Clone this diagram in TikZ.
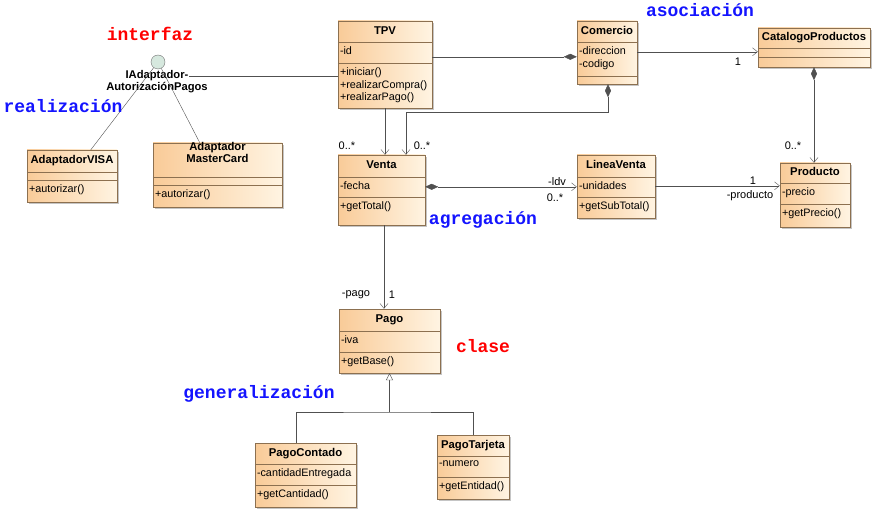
\documentclass[tikz,border=0pt]{standalone}
\usepackage{fontspec}
\setmainfont{Liberation Sans}
\newfontfamily\notefont{Liberation Mono}
\usetikzlibrary{arrows.meta,shadows,fit,calc,positioning}
\definecolor{boxleft}{RGB}{249,203,152}
\definecolor{boxright}{RGB}{255,244,226}
\definecolor{boxline}{RGB}{140,112,80}
\definecolor{wire}{RGB}{80,80,80}
\definecolor{notered}{RGB}{255,0,0}
\definecolor{noteblue}{RGB}{20,20,255}
\definecolor{ifacefill}{RGB}{214,232,222}
\tikzset{
  classbox/.style={
    draw = boxline,
    left color = boxleft,
    right color = boxright,
    inner sep = 0pt,
    drop shadow = {shadow xshift=2pt, shadow yshift=-2pt, fill=black!45}
  },
  classsep/.style={
    draw = boxline
  },
  classtitle/.style={
    font = \bfseries\fontsize{11.3}{12.5}\selectfont,
    align = center,
    text height = 7.5pt,
    text depth = 2pt,
    inner sep = 0pt
  },
  classmember/.style={
    anchor = north west,
    align = left,
    font = \fontsize{10.8}{12.8}\selectfont,
    inner xsep = 2pt,
    inner ysep = 4.5pt
  },
}
\tikzset{
  wire/.style={
    draw = wire,
    thin
  },
  assoc/.style={
    wire,
    -{Straight Barb[length=5pt,width=8pt]}
  },
  compo/.style={
    wire,
    {Diamond[length=13pt,width=6pt,fill=wire]}-{Straight Barb[length=5pt,width=8pt]}
  },
  mult/.style={
    font = \fontsize{11}{12}\selectfont,
    inner sep = 0pt
  },
  note/.style={
    font = \notefont\bfseries\fontsize{18}{18}\selectfont,
    anchor = base,
    inner sep = 0pt
  },
  iface/.style={
    shape = circle,
    draw = black!55,
    fill = ifacefill,
    minimum size = 14pt,
    inner sep = 0pt
  },
  ifacename/.style={
    font = \bfseries\fontsize{11.2}{12}\selectfont,
    inner sep = 0.5pt
  }
}
% id, top left, bottom right, title height, attribute height, title, attributes, operations
\newcommand{\umlclass}[8]{%
  \coordinate (#1-nw) at (#2);
  \coordinate (#1-se) at (#3);
  \node[classbox, fit=(#1-nw)(#1-se)] (#1) {};
  \draw[classsep] ([yshift=-#4pt]#1.north west) -- ([yshift=-#4pt]#1.north east);
  \draw[classsep] ([yshift=-#4pt-#5pt]#1.north west) -- ([yshift=-#4pt-#5pt]#1.north east);
  \node[classtitle] (#1-title) at ([yshift=-#4pt/2]#1.north) {#6};
  \node[classmember] (#1-attr) at ([yshift=-#4pt]#1.north west) {#7};
  \node[classmember] (#1-ops) at ([yshift=-#4pt-#5pt]#1.north west) {#8};
}

\begin{document}
\begin{tikzpicture}[x=1pt,y=-1pt]
  \useasboundingbox (0,0) rectangle (875,513);

  \umlclass{tpv}{338,21}{432,108}{21}{21}{TPV}{-id}{+iniciar()\\+realizarCompra()\\+realizarPago()}
  \umlclass{com}{577,21}{637,84}{21}{34}{Comercio}{-direccion\\-codigo}{}
  \umlclass{cat}{758,28}{870,67}{20}{9}{CatalogoProductos}{}{}
  \umlclass{prod}{780,163}{850,227}{20}{21}{Producto}{-precio}{+getPrecio()}
  \umlclass{venta}{338,155}{425,225}{22}{20}{Venta}{-fecha}{+getTotal()}
  \umlclass{lv}{577,155}{655,218}{22}{20}{LineaVenta}{-unidades}{+getSubTotal()}
  \umlclass{pago}{339,309}{440,373}{22}{21}{Pago}{-iva}{+getBase()}
  \umlclass{pcont}{255,443}{356,507}{21}{21}{PagoContado}{-cantidadEntregada}{+getCantidad()}
  \umlclass{ptar}{437,435}{509,499}{21}{21}{PagoTarjeta}{-numero}{+getEntidad()}
  \umlclass{visa}{27,150}{117,202}{22}{8}{AdaptadorVISA}{}{+autorizar()}
  \umlclass{mc}{153,143}{282,207}{34}{8}{Adaptador\\MasterCard}{}{+autorizar()}

  % interfaz
  \node[iface] (ifz) at (158,62) {};
  \node[ifacename] (ifzA) at (157,76) {IAdaptador-};
  \node[ifacename] (ifzB) at (157,88) {AutorizaciónPagos};
  \draw[wire] (ifzA.east) -- (ifzA.east -| tpv.west);
  \draw[wire] (ifz) -- ([xshift=64pt]visa.north west);
  \draw[wire] (ifz) -- ([xshift=47pt]mc.north west);

  % asociaciones
  \draw[wire, {Diamond[length=13pt,width=6pt,fill=wire]}-] ([yshift=-36pt]com.north west) -- ([yshift=-36pt]tpv.north east);
  \draw[assoc] ([yshift=-31pt]com.north east) -- ([yshift=-24pt]cat.north west);
  \draw[compo] (cat.south) -- (cat.south |- prod.north);
  \draw[assoc] (tpv.south) -- (tpv.south |- venta.north);
  \draw[compo] ([xshift=1pt]com.south) -- ++(0,28) -| ([xshift=24.5pt]venta.north);
  \draw[compo] ([yshift=-32pt]venta.north east) -- ([yshift=-32pt]lv.north west);
  \draw[assoc] ([yshift=-31pt]lv.north east) -- ([yshift=-23pt]prod.north west);
  \draw[assoc] ([xshift=2.5pt]venta.south) -- ([xshift=2.5pt]venta.south |- pago.north);

  % generalizacion
  \coordinate (genjoint) at (389.5,412);
  \draw[wire] ([xshift=-9.5pt]pcont.north) |- (genjoint) -| (ptar.north);
  \draw[wire, -{Triangle[open,length=7pt,width=7pt,fill=white]}] (genjoint) -- (pago.south);

  % multiplicidades
  \node[mult] (m1) at (347,146) {0..*};
  \node[mult] (m2) at (422,146) {0..*};
  \node[mult] (m3) at (738,62) {1};
  \node[mult] (m4) at (793,146) {0..*};
  \node[mult] (m5) at (557,182) {-ldv};
  \node[mult] (m6) at (555,198) {0..*};
  \node[mult] (m7) at (753,181) {1};
  \node[mult] (m8) at (750,196) {-producto};
  \node[mult] (m9) at (356,295) {-pago};
  \node[mult] (m10) at (392,295) {1};

  % notas
  \node[note, text=notered] (n1) at (150,41) {interfaz};
  \node[note, text=noteblue] (n2) at (63,113) {realización};
  \node[note, text=noteblue] (n3) at (700,17) {asociación};
  \node[note, text=noteblue] (n4) at (483,224) {agregación};
  \node[note, text=notered] (n5) at (483,352) {clase};
  \node[note, text=noteblue] (n6) at (259,398) {generalización};
\end{tikzpicture}
\end{document}
